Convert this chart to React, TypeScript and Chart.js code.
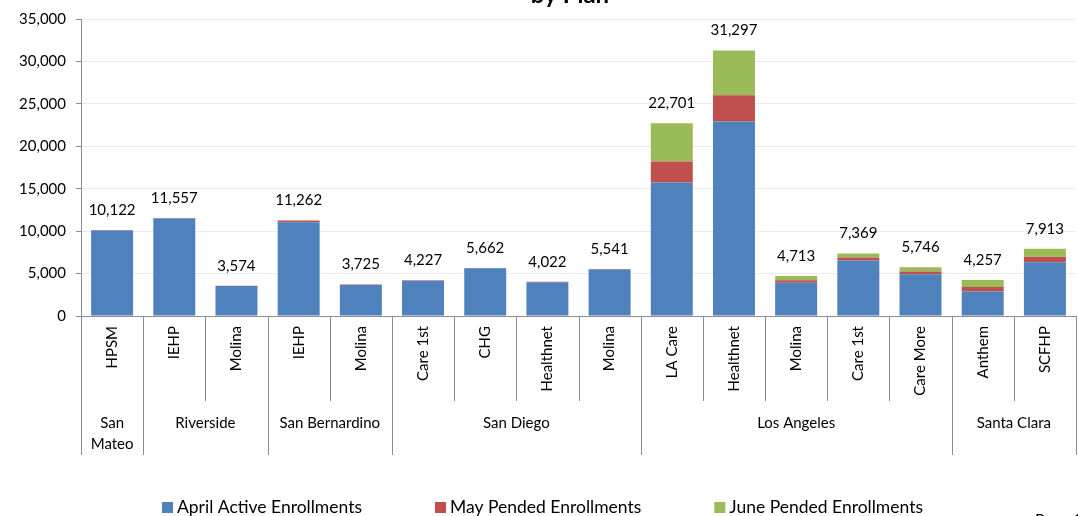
import React, { useEffect, useRef } from "react";
import { Chart, registerables } from "chart.js";

Chart.register(...registerables);

const plans = ["HPSM", "IEHP", "Molina", "IEHP", "Molina", "Care 1st", "CHG", "Healthnet", "Molina", "LA Care", "Healthnet", "Molina", "Care 1st", "Care More", "Anthem", "SCFHP"];
const counties = ["San Mateo", "Riverside", "Riverside", "San Bernardino", "San Bernardino", "San Diego", "San Diego", "San Diego", "San Diego", "Los Angeles", "Los Angeles", "Los Angeles", "Los Angeles", "Los Angeles", "Santa Clara", "Santa Clara"];
const countyLines: Record<string, string[]> = { "San Mateo": ["San", "Mateo"] };

const aprilActive = [10080, 11500, 3540, 11050, 3640, 4150, 5640, 3990, 5480, 15730, 22925, 3930, 6530, 4930, 2880, 6330];
const mayPended = [42, 57, 34, 212, 85, 77, 22, 32, 61, 2490, 3100, 270, 350, 315, 535, 660];
const junePended = [0, 0, 0, 0, 0, 0, 0, 0, 0, 4481, 5272, 513, 489, 501, 842, 923];

const seriesNames = ["April Active Enrollments", "May Pended Enrollments", "June Pended Enrollments"];
const seriesColors = ["#4F81BD", "#C0504D", "#9BBB59"];
const yTicks = [0, 5000, 10000, 15000, 20000, 25000, 30000, 35000];

const FONT = "Lato, 'Open Sans', sans-serif";
const fmt = (v: number) => v.toLocaleString("en-US");

const overlay = {
  id: "overlay",
  afterDraw(chart: any) {
    const ctx = chart.ctx;
    const x = chart.scales.x;
    const y = chart.scales.y;
    const area = chart.chartArea;
    const ds = chart.data.datasets;
    const n = plans.length;
    const step = (area.right - area.left) / n;
    ctx.save();

    // totals above bars
    ctx.fillStyle = "#000";
    ctx.font = `15px ${FONT}`;
    ctx.textAlign = "center";
    ctx.textBaseline = "middle";
    for (let i = 0; i < n; i++) {
      let total = 0;
      ds.forEach((d: any) => (total += d.data[i]));
      ctx.fillText(fmt(total), x.getPixelForValue(i), y.getPixelForValue(total) - 20);
    }

    // dividers
    ctx.strokeStyle = "#8c8c8c";
    ctx.lineWidth = 1;
    const planBottom = area.bottom + 85;
    const countyBottom = area.bottom + 139;
    for (let i = 0; i <= n; i++) {
      const bx = Math.round(area.left + i * step) + 0.5;
      const isCountyEdge = i === 0 || i === n || counties[i] !== counties[i - 1];
      ctx.beginPath();
      ctx.moveTo(bx, area.bottom);
      ctx.lineTo(bx, isCountyEdge ? countyBottom : planBottom);
      ctx.stroke();
    }

    // plan labels rotated
    ctx.fillStyle = "#000";
    ctx.font = `15px ${FONT}`;
    for (let i = 0; i < n; i++) {
      ctx.save();
      ctx.translate(x.getPixelForValue(i), area.bottom + 10);
      ctx.rotate(-Math.PI / 2);
      ctx.textAlign = "right";
      ctx.textBaseline = "middle";
      ctx.fillText(plans[i], 0, 0);
      ctx.restore();
    }

    // county labels
    ctx.textAlign = "center";
    ctx.textBaseline = "middle";
    let start = 0;
    for (let i = 1; i <= n; i++) {
      if (i === n || counties[i] !== counties[start]) {
        const cx = (x.getPixelForValue(start) + x.getPixelForValue(i - 1)) / 2;
        const lines = countyLines[counties[start]] || [counties[start]];
        lines.forEach((t, k) => ctx.fillText(t, cx, area.bottom + 107 + k * 21));
        start = i;
      }
    }

    // legend
    ctx.font = `17.5px ${FONT}`;
    ctx.textAlign = "left";
    ctx.textBaseline = "middle";
    let lx = 162;
    const ly = 507;
    ds.forEach((d: any) => {
      ctx.fillStyle = d.backgroundColor;
      ctx.fillRect(lx, ly - 5, 11, 11);
      ctx.fillStyle = "#000";
      ctx.fillText(d.label, lx + 15, ly);
      lx += 15 + ctx.measureText(d.label).width + 73;
    });

    // title (cut off at top)
    ctx.font = `bold 24px ${FONT}`;
    ctx.textAlign = "center";
    ctx.textBaseline = "alphabetic";
    ctx.fillText("by Plan", 570, 3);

    // page footer fragment
    ctx.font = `16px ${FONT}`;
    ctx.textAlign = "left";
    ctx.textBaseline = "top";
    ctx.fillText("Page 1", 1035, 512);
    ctx.restore();
  },
};

export default function App() {
  const ref = useRef<HTMLCanvasElement>(null);
  useEffect(() => {
    if (!ref.current) return;
    const chart = new Chart(ref.current, {
      type: "bar",
      data: {
        labels: plans,
        datasets: [aprilActive, mayPended, junePended].map((d, i) => ({
          label: seriesNames[i],
          data: d,
          backgroundColor: seriesColors[i],
          borderWidth: 0,
          barPercentage: 0.675,
          categoryPercentage: 1,
        })),
      },
      options: {
        animation: false,
        responsive: false,
        devicePixelRatio: 1,
        layout: { padding: { left: 0, right: 2, top: 14, bottom: 200 } },
        plugins: { legend: { display: false }, tooltip: { enabled: false }, title: { display: false } },
        scales: {
          x: {
            stacked: true,
            grid: { display: false, drawTicks: false },
            border: { color: "#8c8c8c", width: 1 },
            ticks: { display: false },
            afterFit: (s: any) => { s.height = 0; },
          },
          y: {
            stacked: true,
            min: 0,
            max: 35000,
            afterBuildTicks: (s: any) => { s.ticks = yTicks.map((v) => ({ value: v })); },
            afterFit: (s: any) => { s.width = 81; },
            grid: { color: "#ebebeb", tickColor: "#8c8c8c", tickLength: 5 },
            border: { color: "#8c8c8c", width: 1 },
            ticks: {
              color: "#000",
              padding: 10,
              font: { family: FONT, size: 15 },
              callback: (v: any) => fmt(Number(v)),
            },
          },
        },
      },
      plugins: [overlay],
    });
    return () => chart.destroy();
  }, []);
  return (
    <div style={{ position: "absolute", left: 0, top: 0, width: 1078, height: 516, background: "#fff" }}>
      <canvas ref={ref} width={1078} height={516} style={{ width: 1078, height: 516 }} />
    </div>
  );
}
